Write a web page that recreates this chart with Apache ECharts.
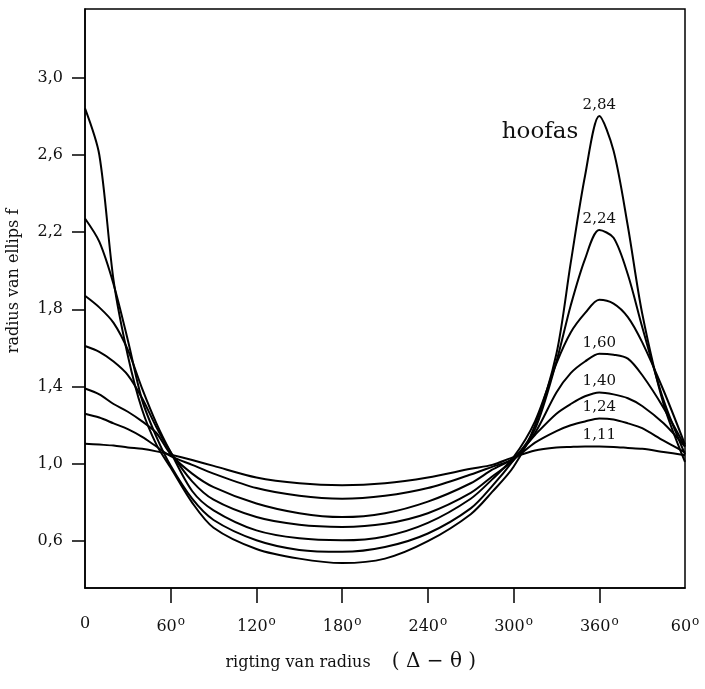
<!DOCTYPE html>
<html>
<head>
<meta charset="utf-8">
<script src="https://cdn.jsdelivr.net/npm/echarts@6/dist/echarts.min.js"></script>
<style>
  html, body { margin: 0; padding: 0; background: #fff; }
  #chart { width: 705px; height: 689px; }
</style>
</head>
<body>
<div id="chart"></div>
<script>
// direction of radius (degrees), shared by all curves
const degrees = [0, 10, 20, 30, 40, 50, 60, 75, 90, 120, 150, 180, 210, 240, 270, 285, 300, 315, 330, 340, 350, 360, 370, 380, 390, 405, 420]

// radius of ellipse f, one curve per peak value
const f284 = [2.84, 2.60, 1.95, 1.56, 1.28, 1.10, 0.98, 0.80, 0.67, 0.56, 0.51, 0.487, 0.51, 0.60, 0.74, 0.855, 0.985, 1.20, 1.57, 2.04, 2.49, 2.80, 2.62, 2.23, 1.78, 1.31, 1.01]
const f224 = [2.27, 2.15, 1.93, 1.64, 1.33, 1.14, 0.99, 0.82, 0.71, 0.605, 0.555, 0.545, 0.57, 0.64, 0.77, 0.885, 1.02, 1.18, 1.53, 1.82, 2.06, 2.21, 2.17, 1.98, 1.71, 1.33, 1.05]
const f188 = [1.87, 1.81, 1.73, 1.59, 1.39, 1.21, 1.06, 0.86, 0.76, 0.656, 0.615, 0.605, 0.625, 0.695, 0.82, 0.92, 1.035, 1.22, 1.52, 1.68, 1.78, 1.85, 1.83, 1.76, 1.63, 1.38, 1.10]
const f160 = [1.61, 1.58, 1.53, 1.46, 1.34, 1.19, 1.06, 0.91, 0.815, 0.725, 0.685, 0.674, 0.69, 0.745, 0.85, 0.935, 1.02, 1.16, 1.37, 1.47, 1.53, 1.57, 1.565, 1.545, 1.46, 1.29, 1.09]
const f140 = [1.39, 1.36, 1.31, 1.27, 1.22, 1.16, 1.05, 0.95, 0.88, 0.795, 0.745, 0.725, 0.745, 0.805, 0.90, 0.97, 1.03, 1.15, 1.26, 1.31, 1.35, 1.37, 1.36, 1.34, 1.30, 1.21, 1.09]
const f124 = [1.26, 1.24, 1.21, 1.18, 1.14, 1.09, 1.04, 0.995, 0.95, 0.875, 0.835, 0.82, 0.835, 0.875, 0.945, 0.985, 1.025, 1.11, 1.17, 1.20, 1.22, 1.235, 1.23, 1.21, 1.185, 1.12, 1.06]
const f111 = [1.105, 1.10, 1.095, 1.085, 1.078, 1.065, 1.048, 1.02, 0.99, 0.93, 0.90, 0.89, 0.90, 0.93, 0.975, 0.995, 1.035, 1.07, 1.085, 1.088, 1.09, 1.09, 1.088, 1.083, 1.078, 1.062, 1.045]

const curves = [f284, f224, f188, f160, f140, f124, f111]
const peakLabels = ['2,84', '2,24', '', '1,60', '1,40', '1,24', '1,11']

const yTicks = [0.6, 1.0, 1.4, 1.8, 2.2, 2.6, 3.0]
const xTicks = [0, 60, 120, 180, 240, 300, 360, 420]
const xTickLabels = ['0', '60', '120', '180', '240', '300', '360', '60']

const serif = '"DejaVu Serif", "Liberation Serif", serif'
const ink = '#111'
const peakIndex = degrees.indexOf(360)

const chart = echarts.init(document.getElementById('chart'))

chart.setOption({
  animation: false,
  backgroundColor: '#fff',
  grid: {
    left: 85,
    right: 20,
    top: 9,
    bottom: 101,
    show: true,
    borderColor: '#000',
    borderWidth: 1.5,
  },
  xAxis: {
    type: 'value',
    min: 0,
    max: 420,
    interval: 60,
    axisLine: { show: true, lineStyle: { color: '#000', width: 1.5 } },
    axisTick: {
      show: true,
      length: 15,
      lineStyle: { color: '#000', width: 1.5 },
      customValues: xTicks.slice(1, -1),
    },
    splitLine: { show: false },
    axisLabel: {
      customValues: xTicks,
      showMinLabel: true,
      showMaxLabel: true,
      margin: 28,
      color: ink,
      fontFamily: serif,
      fontSize: 16,
      formatter: (v) => {
        const t = xTickLabels[xTicks.indexOf(v)]
        return v === 0 ? t : `{n|${t}}{o|o}`
      },
      rich: {
        n: { fontFamily: serif, fontSize: 16, color: ink },
        o: { fontFamily: serif, fontSize: 12, color: ink, verticalAlign: 'top', padding: [0, 0, 9, 1] },
      },
    },
  },
  yAxis: {
    type: 'value',
    min: 0.358,
    max: 3.354,
    axisLine: { show: true, lineStyle: { color: '#000', width: 1.5 } },
    axisTick: {
      show: true,
      length: 13,
      lineStyle: { color: '#000', width: 1.5 },
      customValues: yTicks,
    },
    splitLine: { show: false },
    axisLabel: {
      customValues: yTicks,
      margin: 22,
      color: ink,
      fontFamily: serif,
      fontSize: 16,
      formatter: (v) => v.toFixed(1).replace('.', ','),
    },
  },
  series: curves.map((vals, i) => ({
    type: 'line',
    data: degrees.map((d, j) => [d, vals[j]]),
    smooth: 0.3,
    showSymbol: false,
    lineStyle: { color: '#000', width: 2 },
    markPoint: peakLabels[i] ? {
      symbol: 'circle',
      symbolSize: 1,
      itemStyle: { color: 'rgba(0,0,0,0)' },
      label: {
        show: true,
        position: 'top',
        distance: 3,
        color: ink,
        fontFamily: serif,
        fontSize: 15,
        formatter: peakLabels[i],
      },
      data: [{ coord: [360, vals[peakIndex]] }],
    } : undefined,
  })),
  graphic: [
    {
      type: 'text',
      x: 540,
      y: 132,
      style: { text: 'hoofas', font: '23px ' + serif, fill: ink, align: 'center', verticalAlign: 'middle' },
    },
    {
      type: 'text',
      x: 14,
      y: 281,
      rotation: Math.PI / 2,
      style: { text: 'radius van ellips f', font: '16px ' + serif, fill: ink, align: 'center', verticalAlign: 'middle' },
    },
    {
      type: 'text',
      x: 298,
      y: 663,
      style: { text: 'rigting van radius', font: '16px ' + serif, fill: ink, align: 'center', verticalAlign: 'middle' },
    },
    {
      type: 'text',
      x: 434,
      y: 662,
      style: { text: '( Δ − θ )', font: '20px ' + serif, fill: ink, align: 'center', verticalAlign: 'middle' },
    },
  ],
})
</script>
</body>
</html>
